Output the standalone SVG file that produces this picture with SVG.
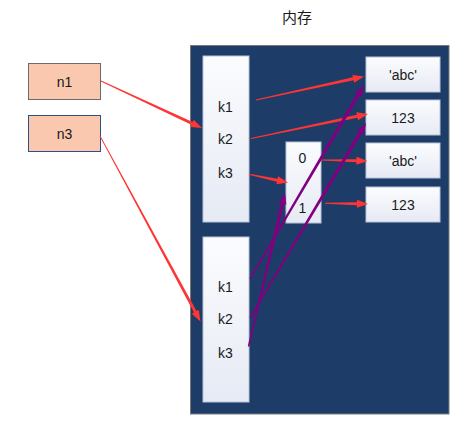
<svg xmlns="http://www.w3.org/2000/svg" width="464" height="428" viewBox="0 0 464 428">
<defs>
<linearGradient id="cell" x1="0" y1="0" x2="0" y2="1">
<stop offset="0" stop-color="#fbfcfe"/>
<stop offset="1" stop-color="#e6eaf4"/>
</linearGradient>
<style>
.t{font-family:"Liberation Sans",Arial,sans-serif;font-size:14px;fill:#1a1a1a;text-anchor:middle}
.title{font-family:"Liberation Sans","Noto Sans CJK SC",sans-serif;font-size:15px;fill:#1a1a1a;text-anchor:middle}
.cell{fill:url(#cell);stroke:#b9c4d8;stroke-width:1}
.var{fill:#f9c8ae}
.red{fill:#ff3535}
.pur{fill:#800080}
</style>
</defs>
<rect width="464" height="428" fill="#ffffff"/>
<text class="title" x="297" y="22.5">内存</text>
<g id="memory">
<rect x="190.5" y="45.5" width="258.5" height="368.5" fill="#1d3d68" stroke="#7a7a7a" stroke-width="1"/>
</g>
<g id="n1">
<rect class="var" x="28.5" y="63.5" width="72" height="36" stroke="#6b6b6b" stroke-width="1"/>
<text class="t" x="64.5" y="86.5">n1</text>
</g>
<g id="n3">
<rect class="var" x="28.5" y="115.5" width="72" height="36" stroke="#2f4f8a" stroke-width="1"/>
<text class="t" x="64.5" y="139">n3</text>
</g>
<g id="dict1">
<rect class="cell" x="203" y="56" width="46" height="166"/>
<text class="t" x="225.5" y="112">k1</text>
<text class="t" x="225.5" y="144.2">k2</text>
<text class="t" x="225.5" y="177.9">k3</text>
</g>
<g id="dict2">
<rect class="cell" x="203" y="237" width="46" height="165"/>
<text class="t" x="225.5" y="291.9">k1</text>
<text class="t" x="225.5" y="324.2">k2</text>
<text class="t" x="225.5" y="357.9">k3</text>
</g>
<g id="list">
<rect class="cell" x="286" y="142" width="35" height="81"/>
<text class="t" x="302.5" y="162.9">0</text>
<text class="t" x="302.5" y="212.9">1</text>
</g>
<g id="v1">
<rect class="cell" x="366" y="57" width="74" height="35"/>
<text class="t" x="403" y="80">'abc'</text>
</g>
<g id="v2">
<rect class="cell" x="366" y="100" width="74" height="35"/>
<text class="t" x="403" y="123">123</text>
</g>
<g id="v3">
<rect class="cell" x="366" y="143" width="74" height="35"/>
<text class="t" x="403" y="166">'abc'</text>
</g>
<g id="v4">
<rect class="cell" x="366" y="187" width="74" height="35"/>
<text class="t" x="403" y="210">123</text>
</g>
<g id="connectors">
<path class="red" d="M100.79,81.45 L191.40,124.72 L190.34,126.99 L202,128 L193.72,119.73 L192.66,122.00 L101.21,80.55 Z"/>
<path class="red" d="M99.65,136.19 L193.94,312.54 L191.74,313.74 L200.5,321.5 L198.78,309.93 L196.58,311.12 L100.35,135.81 Z"/>
<path class="red" d="M256.11,100.49 L353.57,80.31 L354.10,82.75 L364,76.5 L352.40,74.93 L352.93,77.37 L255.89,99.51 Z"/>
<path class="red" d="M251.10,138.99 L357.54,117.73 L358.05,120.18 L368,114 L356.41,112.34 L356.92,114.79 L250.90,138.01 Z"/>
<path class="red" d="M248.90,174.79 L276.92,181.71 L276.41,184.15 L288,182.5 L278.05,176.33 L277.54,178.77 L249.10,173.81 Z"/>
<path class="red" d="M321.49,160.5 L356.47,162.26 L356.41,164.76 L367.5,161 L356.59,156.76 L356.53,159.26 L321.51,159.5 Z"/>
<path class="red" d="M324.99,203.8 L356.98,205.32 L356.93,207.82 L368,204 L357.07,199.82 L357.02,202.32 L325.01,202.8 Z"/>
<path class="pur" d="M250.65,279.38 L359.94,95.37 L361.88,96.51 L364,85 L354.98,92.45 L356.92,93.59 L249.35,278.62 Z"/>
<path class="pur" d="M250.64,318.38 L361.88,133.34 L363.82,134.49 L366,123 L356.94,130.41 L358.88,131.56 L249.36,317.62 Z"/>
<path class="pur" d="M249.23,346.67 L284.16,204.10 L286.35,204.63 L285,193 L278.57,202.77 L280.76,203.30 L247.77,346.33 Z"/>
</g>
</svg>
